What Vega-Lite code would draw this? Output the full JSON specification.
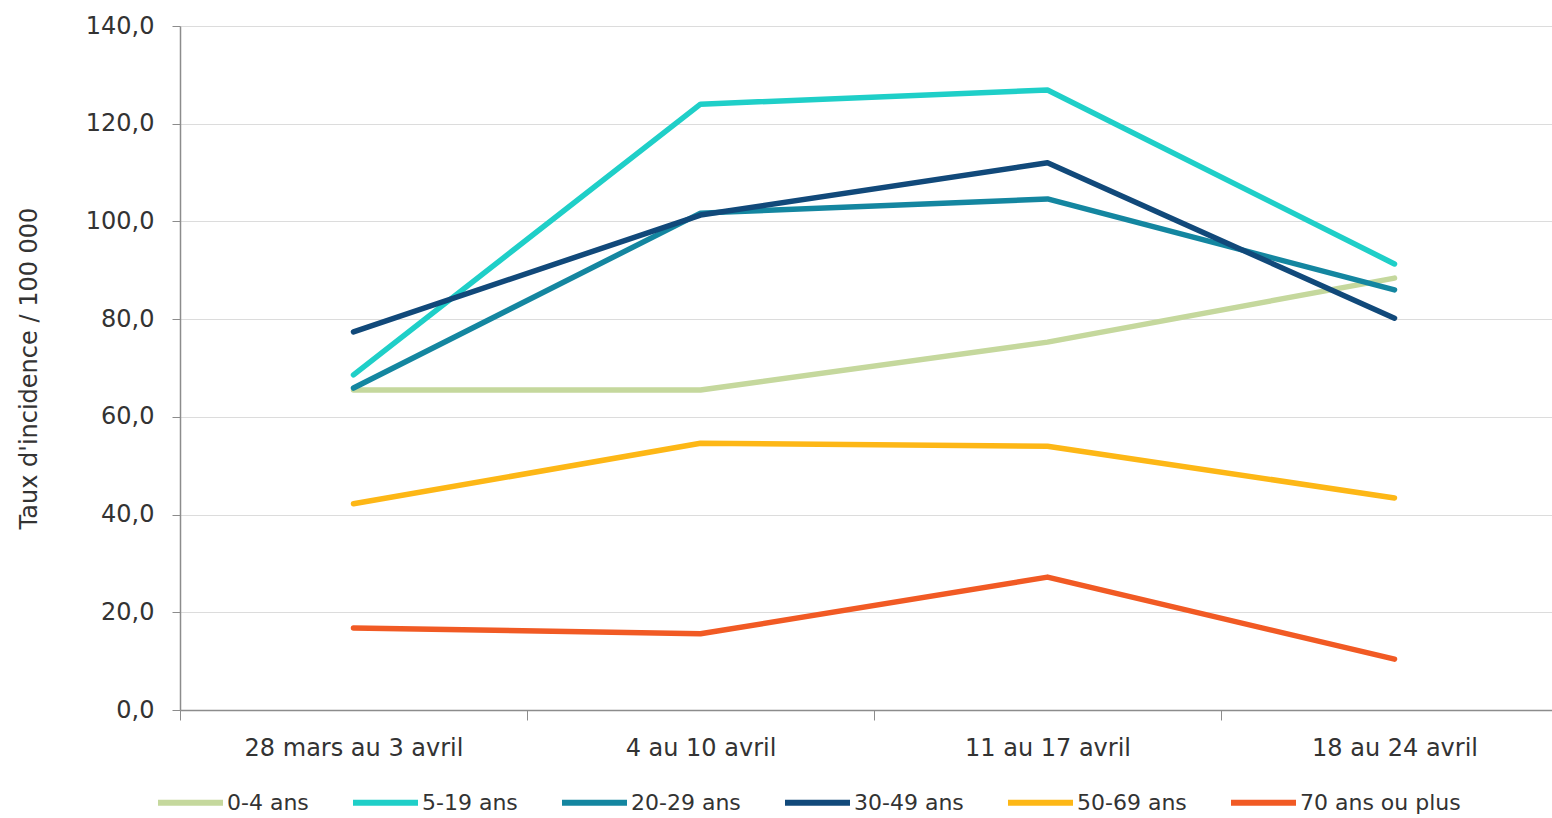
{
  "$schema": "https://vega.github.io/schema/vega-lite/v6.json",
  "width": 1388,
  "height": 684,
  "autosize": {"type": "none"},
  "padding": {"left": 180, "top": 26, "right": 0, "bottom": 108},
  "background": "white",
  "config": {
    "font": "DejaVu Sans",
    "view": {"stroke": null}
  },
  "data": {
    "values": [
      {"semaine": "28 mars au 3 avril", "groupe": "0-4 ans", "taux": 65.5},
      {"semaine": "4 au 10 avril", "groupe": "0-4 ans", "taux": 65.5},
      {"semaine": "11 au 17 avril", "groupe": "0-4 ans", "taux": 75.3},
      {"semaine": "18 au 24 avril", "groupe": "0-4 ans", "taux": 88.4},
      {"semaine": "28 mars au 3 avril", "groupe": "5-19 ans", "taux": 68.6},
      {"semaine": "4 au 10 avril", "groupe": "5-19 ans", "taux": 124.0},
      {"semaine": "11 au 17 avril", "groupe": "5-19 ans", "taux": 126.9},
      {"semaine": "18 au 24 avril", "groupe": "5-19 ans", "taux": 91.3},
      {"semaine": "28 mars au 3 avril", "groupe": "20-29 ans", "taux": 65.9},
      {"semaine": "4 au 10 avril", "groupe": "20-29 ans", "taux": 101.7},
      {"semaine": "11 au 17 avril", "groupe": "20-29 ans", "taux": 104.6},
      {"semaine": "18 au 24 avril", "groupe": "20-29 ans", "taux": 86.0},
      {"semaine": "28 mars au 3 avril", "groupe": "30-49 ans", "taux": 77.4},
      {"semaine": "4 au 10 avril", "groupe": "30-49 ans", "taux": 101.3},
      {"semaine": "11 au 17 avril", "groupe": "30-49 ans", "taux": 112.0},
      {"semaine": "18 au 24 avril", "groupe": "30-49 ans", "taux": 80.2},
      {"semaine": "28 mars au 3 avril", "groupe": "50-69 ans", "taux": 42.2},
      {"semaine": "4 au 10 avril", "groupe": "50-69 ans", "taux": 54.6},
      {"semaine": "11 au 17 avril", "groupe": "50-69 ans", "taux": 54.0},
      {"semaine": "18 au 24 avril", "groupe": "50-69 ans", "taux": 43.4},
      {"semaine": "28 mars au 3 avril", "groupe": "70 ans ou plus", "taux": 16.8},
      {"semaine": "4 au 10 avril", "groupe": "70 ans ou plus", "taux": 15.6},
      {"semaine": "11 au 17 avril", "groupe": "70 ans ou plus", "taux": 27.2},
      {"semaine": "18 au 24 avril", "groupe": "70 ans ou plus", "taux": 10.4}
    ]
  },
  "mark": {"type": "line", "strokeWidth": 5.5, "strokeCap": "round", "strokeJoin": "round"},
  "encoding": {
    "x": {
      "field": "semaine",
      "type": "ordinal",
      "sort": ["28 mars au 3 avril", "4 au 10 avril", "11 au 17 avril", "18 au 24 avril"],
      "scale": {"type": "band", "paddingInner": 0, "paddingOuter": 0},
      "axis": {
        "title": null,
        "labelAngle": 0,
        "labelFontSize": 24,
        "labelColor": "#333333",
        "labelPadding": 16,
        "labelLimit": 400,
        "tickBand": "extent",
        "tickSize": 10,
        "tickColor": "#8c8c8c",
        "domainColor": "#8c8c8c",
        "domainWidth": 1.5,
        "grid": false
      }
    },
    "y": {
      "field": "taux",
      "type": "quantitative",
      "scale": {"domain": [0, 140], "nice": false},
      "axis": {
        "title": "Taux d'incidence / 100 000",
        "titleFontSize": 24,
        "titleFontWeight": "normal",
        "titleColor": "#333333",
        "titlePadding": 44,
        "values": [0, 20, 40, 60, 80, 100, 120, 140],
        "labelExpr": "replace(format(datum.value, '.1f'), '.', ',')",
        "labelFontSize": 24,
        "labelColor": "#333333",
        "labelPadding": 18,
        "tickSize": 8,
        "tickColor": "#8c8c8c",
        "domainColor": "#8c8c8c",
        "domainWidth": 1.5,
        "gridColor": "#dcdcdc",
        "gridWidth": 1.2
      }
    },
    "color": {
      "field": "groupe",
      "type": "nominal",
      "sort": ["0-4 ans", "5-19 ans", "20-29 ans", "30-49 ans", "50-69 ans", "70 ans ou plus"],
      "scale": {
        "domain": ["0-4 ans", "5-19 ans", "20-29 ans", "30-49 ans", "50-69 ans", "70 ans ou plus"],
        "range": ["#C5D89D", "#1FCFC8", "#1486A0", "#11497A", "#FDB716", "#F15A24"]
      },
      "legend": {
        "title": null,
        "orient": "none",
        "direction": "horizontal",
        "legendX": -25,
        "legendY": 741,
        "symbolType": "stroke",
        "symbolSize": 4225,
        "symbolStrokeWidth": 6,
        "labelFontSize": 22,
        "labelColor": "#333333",
        "labelOffset": 1,
        "columnPadding": 32,
        "labelLimit": 300
      }
    }
  }
}
